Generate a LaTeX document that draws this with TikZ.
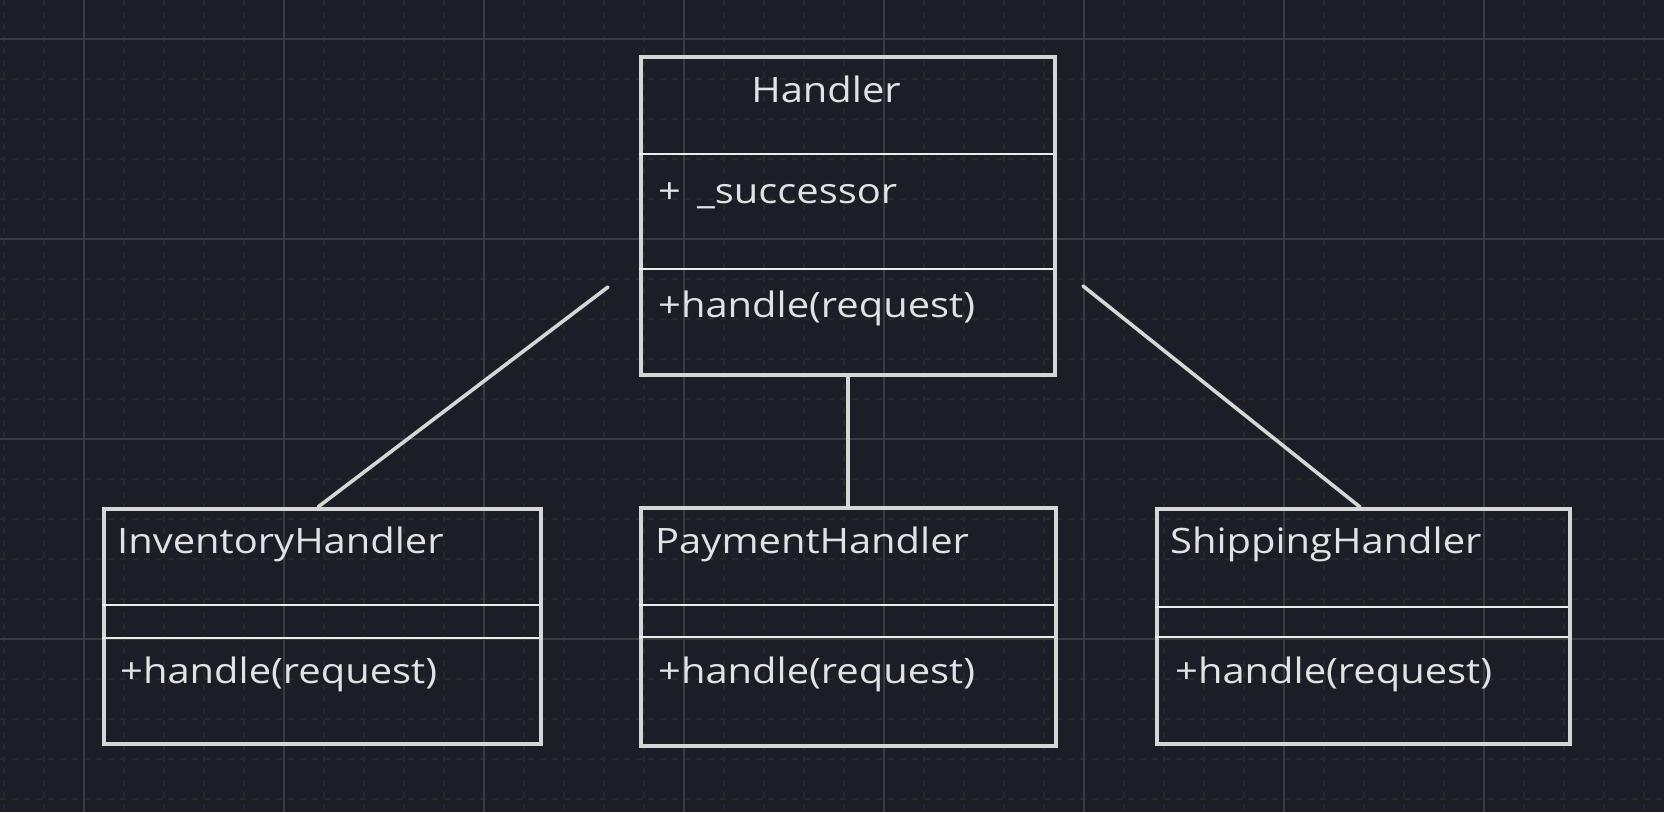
\documentclass[tikz,border=0pt]{standalone}
\usepackage{fontspec}
\setmainfont[FakeStretch=1.14]{Open Sans}
\definecolor{bg}{HTML}{1B1D27}
\definecolor{gridmajor}{HTML}{3A3B3E}
\definecolor{gridminor}{HTML}{282A2A}
\definecolor{stroke}{HTML}{D6D6D6}
\definecolor{divider}{HTML}{ECECEC}
\definecolor{ink}{HTML}{E2E2E2}
\begin{document}
\begin{tikzpicture}[x=1pt,y=-1pt,
  classbox/.style={draw=stroke,line width=3.8pt,inner sep=0pt,anchor=north west},
  divline/.style={draw=divider,line width=2pt},
  link/.style={draw=stroke,line width=3.6pt,line cap=round},
  label/.style={text=ink,inner sep=0pt,anchor=base west,font=\fontsize{35}{40}\selectfont},
  minorgrid/.style={draw=gridminor,line width=1.4pt,dash pattern=on 6pt off 6pt},
  majorgrid/.style={draw=gridmajor,line width=2pt}]
\fill[bg] (0,0) rectangle (1664,812);
\useasboundingbox (0,0) rectangle (1664,812);
% minor grid
\foreach \x in {4,44,...,1664} \draw[minorgrid] (\x,0) -- (\x,812);
\foreach \y in {-1,39,...,812} \draw[minorgrid] (0,\y) -- (1664,\y);
% major grid
\foreach \x in {84,284,...,1664} \draw[majorgrid] (\x,0) -- (\x,812);
\foreach \y in {39,239,...,812} \draw[majorgrid] (0,\y) -- (1664,\y);

% Handler
\node[classbox,minimum width=414pt,minimum height=318pt] (handler) at (639,55) {};
\draw[divline] (639,154) -- (1053,154);
\draw[divline] (639,269) -- (1053,269);
\node[label,anchor=base] (hname) at (826,102) {Handler};
\node[label] (hattr) at (658,203) {+\hspace{16pt}\_successor};
\node[label] (hop) at (658,317) {+handle(request)};

% Inventory
\node[classbox,minimum width=437pt,minimum height=235pt] (inv) at (102,507) {};
\draw[divline] (102,605) -- (539,605);
\draw[divline] (102,638) -- (539,638);
\node[label] (iname) at (117,553) {InventoryHandler};
\node[label] (iop) at (120,683) {+handle(request)};

% Payment
\node[classbox,minimum width=415pt,minimum height=238pt] (pay) at (639,506) {};
\draw[divline] (639,605) -- (1054,605);
\draw[divline] (639,637) -- (1054,637);
\node[label] (pname) at (655,553) {PaymentHandler};
\node[label] (pop) at (658,683) {+handle(request)};

% Shipping
\node[classbox,minimum width=413pt,minimum height=235pt] (ship) at (1155,507) {};
\draw[divline] (1155,607) -- (1568,607);
\draw[divline] (1155,637) -- (1568,637);
\node[label] (sname) at (1170,553) {ShippingHandler};
\node[label] (sop) at (1175,683) {+handle(request)};

% connectors
\coordinate (lstart) at (608,287);
\coordinate (rstart) at (1083,286);
\draw[link] (lstart) -- ([xshift=216pt]inv.north west);
\draw[link] (handler.south) -- (handler.south |- pay.north);
\draw[link] (rstart) -- ([xshift=205pt]ship.north west);
\end{tikzpicture}
\end{document}
